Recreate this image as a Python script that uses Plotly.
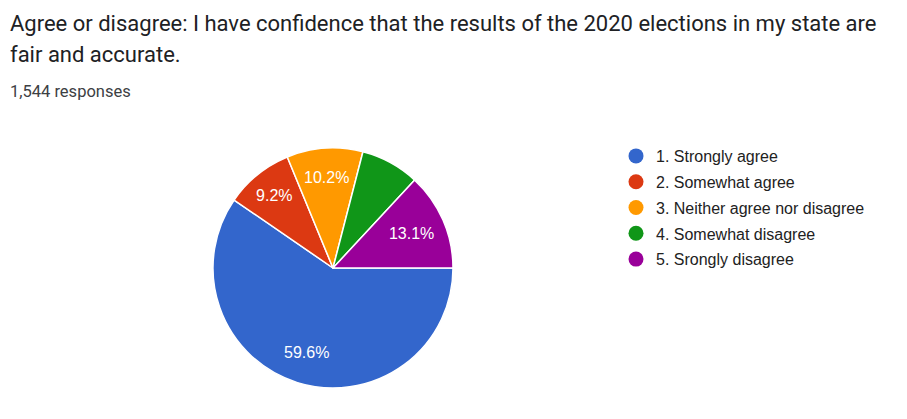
import math
import plotly.graph_objects as go

categories = ["1. Strongly agree", "2. Somewhat agree", "3. Neither agree nor disagree",
              "4. Somewhat disagree", "5. Srongly disagree"]
counts = [920, 142, 158, 122, 202]
colors = ["#3366cc", "#dc3912", "#ff9900", "#109618", "#990099"]
title_line1 = "Agree or disagree: I have confidence that the results of the 2020 elections in my state are"
title_line2 = "fair and accurate."
subtitle = "1,544 responses"

total = sum(counts)
shares = [c / total for c in counts]
labels_txt = [f"{s * 100:.1f}%" if s >= 0.09 else "" for s in shares]

# page body has 8px margin; figure area is offset by it
W, H = 899, 411
CX, CY, R = 325.0, 260.0, 120.0  # pie centre / radius in figure pixels

fig = go.Figure()
# the largest slice (index 0) gets its label placed further out, like the original
pie_text = [""] + labels_txt[1:]
fig.add_trace(go.Pie(
    labels=categories, values=counts, text=pie_text, textinfo="text",
    textposition="inside", insidetextorientation="horizontal",
    marker=dict(colors=colors, line=dict(color="white", width=1.5)),
    sort=False, direction="clockwise", rotation=90,
    textfont=dict(family="Arial, Liberation Sans", size=16, color="white"),
    showlegend=False, hoverinfo="label+percent",
    domain=dict(x=[(CX - R) / W, (CX + R) / W], y=[1 - (CY + R) / H, 1 - (CY - R) / H]),
))
for cat, col in zip(categories, colors):
    fig.add_trace(go.Scatter(x=[None], y=[None], mode="markers", name=cat, legendgroup=cat,
                             marker=dict(color=col, size=15, symbol="circle")))

# label for the largest slice: along its bisector (clockwise from 3 o'clock)
ang = math.radians(shares[0] * 360 / 2)
lx = CX + 0.74 * R * math.cos(ang)
ly = CY + 0.74 * R * math.sin(ang)

fig.update_layout(
    width=W, height=H, margin=dict(l=0, r=0, t=0, b=0),
    paper_bgcolor="white", plot_bgcolor="white",
    xaxis=dict(visible=False), yaxis=dict(visible=False),
    legend=dict(x=608 / W, y=1 - 131 / H, xanchor="left", yanchor="top",
                font=dict(family="Arial, Liberation Sans", size=16, color="#222222"),
                itemsizing="trace", bgcolor="rgba(0,0,0,0)", tracegroupgap=2),
    annotations=[
        dict(text=title_line1, x=0, y=1 - 16 / H, xref="paper", yref="paper",
             xanchor="left", yanchor="middle", showarrow=False,
             font=dict(family="Roboto", size=22, color="#202124")),
        dict(text=title_line2, x=0, y=1 - 47 / H, xref="paper", yref="paper",
             xanchor="left", yanchor="middle", showarrow=False,
             font=dict(family="Roboto", size=22, color="#202124")),
        dict(text=subtitle, x=0, y=1 - 84 / H, xref="paper", yref="paper",
             xanchor="left", yanchor="middle", showarrow=False,
             font=dict(family="Roboto", size=16.5, color="#3c4043")),
        dict(text=labels_txt[0], x=lx / W, y=1 - ly / H, xref="paper", yref="paper",
             xanchor="center", yanchor="middle", showarrow=False,
             font=dict(family="Arial, Liberation Sans", size=16, color="white")),
    ],
)
fig.write_html("out.html")
